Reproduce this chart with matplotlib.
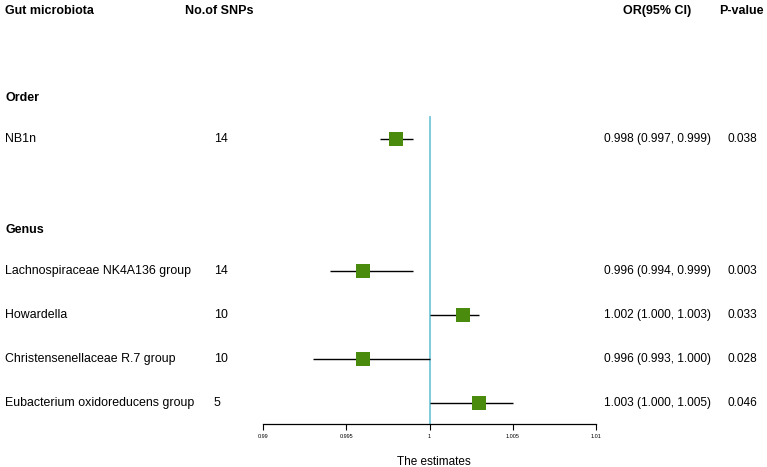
import matplotlib
matplotlib.use("Agg")
import matplotlib.pyplot as plt
from matplotlib.transforms import blended_transform_factory

plt.rcParams["font.family"] = ["Liberation Sans", "DejaVu Sans"]

# rows from the top; group headers take a row of their own
groups = ["Order", "Genus"]
group_rows = [2, 5]
taxa = [
    "NB1n",
    "Lachnospiraceae NK4A136 group",
    "Howardella",
    "Christensenellaceae R.7 group",
    "Eubacterium oxidoreducens group",
]
taxa_rows = [3, 6, 7, 8, 9]
n_snps = [14, 14, 10, 10, 5]
or_est = [0.998, 0.996, 1.002, 0.996, 1.003]
ci_low = [0.997, 0.994, 1.000, 0.993, 1.000]
ci_high = [0.999, 0.999, 1.003, 1.000, 1.005]
p_values = ["0.038", "0.003", "0.033", "0.028", "0.046"]
x_ticks = [0.99, 0.995, 1.0, 1.005, 1.01]
x_tick_labels = ["0.99", "0.995", "1", "1.005", "1.01"]

W, H = 767, 467
fig = plt.figure(figsize=(W / 100, H / 100), dpi=100)
ax = fig.add_axes([263 / W, 1 - 424 / H, (596 - 263) / W, 424 / H])
ax.set_xlim(0.99, 1.01)
ax.set_ylim(9.48, -0.16)

ax.axvline(1.0, ymin=0, ymax=(9.48 - 2.5) / (9.48 + 0.16), color="#74c7da", lw=1.3, zorder=1)
ax.hlines(taxa_rows, ci_low, ci_high, color="black", lw=1.0, zorder=2)
ax.plot(or_est, taxa_rows, "s", color="#4a8a0c", markersize=10.5, markeredgewidth=0, zorder=3)

for side in ["left", "top", "right"]:
    ax.spines[side].set_visible(False)
ax.spines["bottom"].set_linewidth(0.9)
ax.set_yticks([])
ax.set_xticks(x_ticks)
ax.set_xticklabels(x_tick_labels, fontsize=4)
ax.tick_params(axis="x", length=4, width=0.8, pad=3)
ax.set_xlabel("The estimates", fontsize=8.5, labelpad=11)
ax.xaxis.set_label_coords(0.512, -0.075)

trans = blended_transform_factory(fig.transFigure, ax.transData)
header_y = 0.1
for label, xpix in [("Gut microbiota", 5), ("No.of SNPs", 185), ("OR(95% CI)", 623), ("P-value", 719)]:
    ax.text(xpix / W, header_y, label, transform=trans, fontsize=9, fontweight="bold",
            va="center", ha="left", clip_on=False)

for name, row in zip(groups, group_rows):
    ax.text(5 / W, row + 0.07, name, transform=trans, fontsize=9, fontweight="bold",
            va="center", clip_on=False)

for name, row, n, est, lo, hi, p in zip(taxa, taxa_rows, n_snps, or_est, ci_low, ci_high, p_values):
    ax.text(5 / W, row, name, transform=trans, fontsize=8.9, va="center", clip_on=False)
    ax.text(214 / W, row, str(n), transform=trans, fontsize=8.9, va="center", clip_on=False)
    ax.text(604 / W, row, f"{est:.3f} ({lo:.3f}, {hi:.3f})", transform=trans, fontsize=8.6,
            va="center", clip_on=False)
    ax.text(727 / W, row, p, transform=trans, fontsize=8.6, va="center", clip_on=False)

fig.savefig("out.png", dpi=100, facecolor="white")
